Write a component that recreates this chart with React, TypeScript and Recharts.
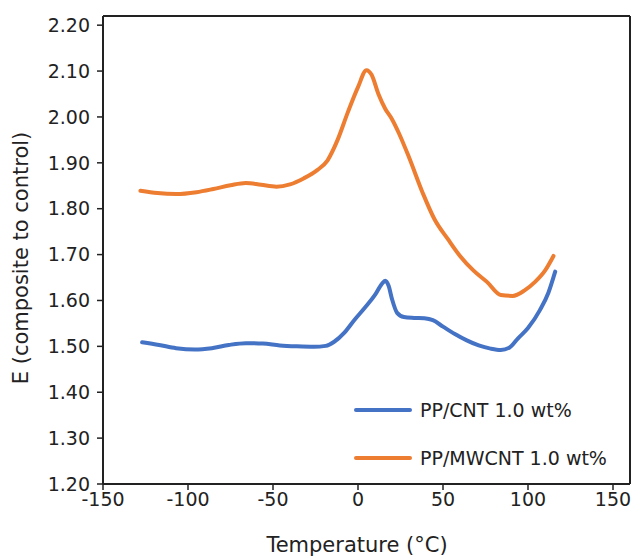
import React from "react";
import {
  LineChart,
  Line,
  XAxis,
  YAxis,
  ReferenceLine,
  Legend,
} from "recharts";

const cntTemps = [-127, -117, -107, -96, -86, -76, -66, -56, -46, -36, -26, -19, -14, -8, -2, 4, 10, 14, 16, 18, 20, 23, 27, 33, 39, 44, 50, 57, 64, 71, 78, 84, 89, 94, 100, 107, 112, 116];
const cntValues = [1.509, 1.503, 1.496, 1.493, 1.496, 1.503, 1.507, 1.506, 1.502, 1.5, 1.499, 1.501, 1.51, 1.53, 1.558, 1.584, 1.612, 1.636, 1.643, 1.632, 1.603, 1.573, 1.564, 1.562, 1.561, 1.557, 1.543, 1.527, 1.513, 1.502, 1.495, 1.492, 1.497, 1.517, 1.54, 1.579, 1.617, 1.663];

const mwcntTemps = [-128, -118, -107, -95, -85, -75, -66, -57, -48, -40, -32, -24, -18, -12, -6, 0, 5, 8, 12, 16, 20, 24, 30, 38, 45, 53, 60, 68, 76, 84, 91, 98, 104, 110, 115];
const mwcntValues = [1.839, 1.834, 1.832, 1.836, 1.843, 1.851, 1.856, 1.852, 1.848, 1.853, 1.866, 1.884, 1.905, 1.95, 2.01, 2.065, 2.102, 2.092, 2.05, 2.018, 1.995, 1.965, 1.912, 1.835, 1.777, 1.733, 1.697, 1.665, 1.64, 1.612, 1.61, 1.622, 1.64, 1.665, 1.697];

const xTicks = [-150, -100, -50, 0, 50, 100, 150];
const yTicks = [1.2, 1.3, 1.4, 1.5, 1.6, 1.7, 1.8, 1.9, 2.0, 2.1, 2.2];

const seriesNames = ["PP/CNT 1.0 wt%", "PP/MWCNT 1.0 wt%"];
const seriesColors = ["#4472C4", "#ED7D31"];

const xTitle = "Temperature (°C)";
const yTitle = "E (composite to control)";

const cntData = cntTemps.map((t, i) => ({ t, v: cntValues[i] }));
const mwcntData = mwcntTemps.map((t, i) => ({ t, v: mwcntValues[i] }));

const FONT = "'DejaVu Sans', sans-serif";
const INK = "#222";

const LegendContent = () => (
  <div style={{ fontFamily: FONT, fontSize: 19, color: INK }}>
    {seriesNames.map((n, i) => (
      <div key={n} style={{ display: "flex", alignItems: "center", height: 48 }}>
        <div
          style={{
            width: 58,
            height: 4,
            borderRadius: 2,
            background: seriesColors[i],
            marginRight: 8,
          }}
        />
        <span style={{ whiteSpace: "nowrap" }}>{n}</span>
      </div>
    ))}
  </div>
);

export default function App() {
  return (
    <div style={{ position: "absolute", left: 0, top: 0, background: "#fff" }}>
      <LineChart
        width={633}
        height={556}
        margin={{ top: 16, right: 3, bottom: 0, left: 43 }}
      >
        <XAxis
          type="number"
          dataKey="t"
          domain={[-150, 160]}
          ticks={xTicks}
          allowDataOverflow
          height={72}
          tickSize={6}
          tickMargin={3}
          axisLine={{ stroke: INK, strokeWidth: 2 }}
          tickLine={{ stroke: INK, strokeWidth: 1.5 }}
          tick={{ fill: INK, fontSize: 19, fontFamily: FONT }}
          label={{
            content: () => (
              <text
                x={357}
                y={552}
                textAnchor="middle"
                fill={INK}
                fontSize={21}
                fontFamily={FONT}
              >
                {xTitle}
              </text>
            ),
          }}
        />
        <YAxis
          type="number"
          dataKey="v"
          domain={[1.2, 2.22]}
          ticks={yTicks}
          allowDataOverflow
          width={60}
          tickSize={6}
          tickMargin={7}
          tickFormatter={(v: number) => v.toFixed(2)}
          axisLine={{ stroke: INK, strokeWidth: 2 }}
          tickLine={{ stroke: INK, strokeWidth: 1.5 }}
          tick={{ fill: INK, fontSize: 19, fontFamily: FONT }}
          label={{
            content: () => (
              <text
                transform="translate(28,258) rotate(-90)"
                textAnchor="middle"
                fill={INK}
                fontSize={21}
                fontFamily={FONT}
              >
                {yTitle}
              </text>
            ),
          }}
        />
        <ReferenceLine y={2.22} stroke={INK} strokeWidth={2} ifOverflow="visible" />
        <ReferenceLine x={160} stroke={INK} strokeWidth={2} ifOverflow="visible" />
        <Line
          data={cntData}
          dataKey="v"
          name={seriesNames[0]}
          type="monotone"
          stroke={seriesColors[0]}
          strokeWidth={4}
          strokeLinecap="round"
          dot={false}
          activeDot={false}
          isAnimationActive={false}
        />
        <Line
          data={mwcntData}
          dataKey="v"
          name={seriesNames[1]}
          type="monotone"
          stroke={seriesColors[1]}
          strokeWidth={4}
          strokeLinecap="round"
          dot={false}
          activeDot={false}
          isAnimationActive={false}
        />
        <Legend
          layout="horizontal"
          verticalAlign="middle"
          align="center"
          content={<LegendContent />}
          wrapperStyle={{ position: "absolute", left: 354, top: 386, width: 279, bottom: "auto", right: "auto" }}
        />
      </LineChart>
    </div>
  );
}
